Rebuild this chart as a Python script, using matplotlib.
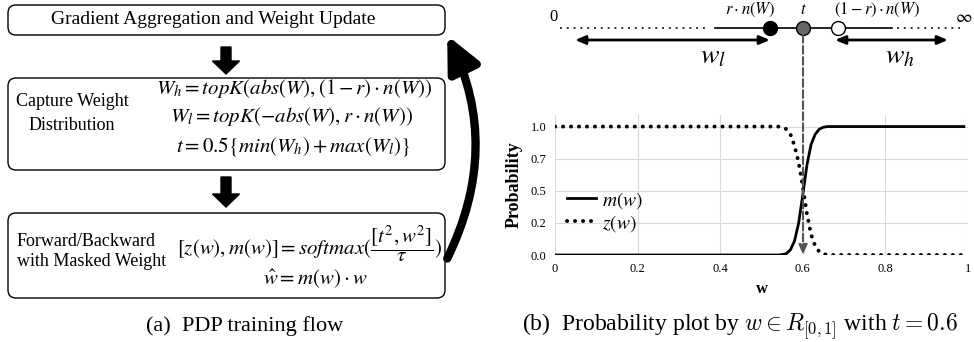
import matplotlib
matplotlib.use("Agg")
import matplotlib.pyplot as plt
from matplotlib.patches import FancyBboxPatch, FancyArrow, FancyArrowPatch

plt.rcParams['font.family'] = ['Liberation Serif', 'DejaVu Serif']
plt.rcParams['mathtext.fontset'] = 'stix'

# curve points
w_pts = [0.0, 0.50, 0.54, 0.55, 0.56, 0.57, 0.58, 0.59, 0.60, 0.61, 0.62,
         0.63, 0.64, 0.65, 0.66, 0.70, 0.99]
m_pts = [0.0, 0.0, 0.0, 0.003, 0.01, 0.04, 0.11, 0.25, 0.47, 0.70, 0.86,
         0.94, 0.98, 0.995, 1.0, 1.0, 1.0]
z_pts = [1.0, 1.0, 1.0, 0.995, 0.98, 0.94, 0.85, 0.72, 0.53, 0.32, 0.16,
         0.07, 0.025, 0.008, 0.0, 0.0, 0.0]

x_ticks = [0, 0.2, 0.4, 0.6, 0.8, 1]
x_labels = ['0', '0.2', '0.4', '0.6', '0.8', '1']
y_ticks = [0.0, 0.25, 0.5, 0.75, 1.0]
y_labels = ['0.0', '0.2', '0.5', '0.7', '1.0']

fig = plt.figure(figsize=(9.74, 3.42), dpi=100)

# ---- probability plot (b)
pax = fig.add_axes([555/974, 1-255/342, 413/974, 140/342])
pax.plot(w_pts, m_pts, color='black', lw=2, label='$m(w)$')
pax.plot(w_pts, z_pts, color='black', lw=2.8, linestyle=(0, (0.05, 2.0)),
         dash_capstyle='round', label='$z(w)$')
pax.set_xlim(0, 1)
pax.set_ylim(0, 1.09)
pax.set_xticks(x_ticks, x_labels)
pax.set_yticks(y_ticks, y_labels)
pax.tick_params(length=0, labelsize=9, pad=6)
pax.grid(color='#d9d9d9', lw=0.8)
for s in pax.spines.values():
    s.set_visible(False)
pax.set_xlabel('w', fontsize=12, fontweight='bold', labelpad=4)
pax.set_ylabel('Probability', fontsize=13, fontweight='bold', labelpad=6)
pax.legend(loc='center left', bbox_to_anchor=(0.01, 0.31), frameon=False,
           fontsize=14, handlelength=1.5, borderaxespad=0, labelspacing=0.1,
           handletextpad=0.3)

# ---- overlay in pixel coordinates
ax = fig.add_axes([0, 0, 1, 1])
ax.set_xlim(0, 974)
ax.set_ylim(342, 0)
ax.axis('off')

def box(x0, y0, x1, y1):
    ax.add_patch(FancyBboxPatch((x0, y0), x1-x0, y1-y0,
                                boxstyle='round,pad=0,rounding_size=8',
                                fc='white', ec='black', lw=1))

box(8, 5, 445, 35)
box(8, 78, 445, 170)
box(8, 213, 445, 298)

ax.text(213, 20, 'Gradient Aggregation and Weight Update', ha='center', va='center', fontsize=14)

ax.text(72, 101, 'Capture Weight', ha='center', va='center', fontsize=13)
ax.text(72, 126, 'Distribution', ha='center', va='center', fontsize=13)
ax.text(294, 89, r'$W_h = topK(abs(W), (1-r)\cdot n(W))$', ha='center', va='center', fontsize=15)
ax.text(291, 117, r'$W_l = topK(-abs(W), r\cdot n(W))$', ha='center', va='center', fontsize=15)
ax.text(293, 147, r'$t = 0.5\{min(W_h) + max(W_l)\}$', ha='center', va='center', fontsize=15)

ax.text(17, 242, 'Forward/Backward', ha='left', va='center', fontsize=13)
ax.text(17, 261, 'with Masked Weight', ha='left', va='center', fontsize=13)
ax.text(310, 244, r'$[z(w), m(w)] = softmax(\dfrac{[t^2, w^2]}{\tau})$', ha='center', va='center', fontsize=15)
ax.text(315, 279, r'$\hat{w} = m(w)\cdot w$', ha='center', va='center', fontsize=15)

for y0, y1 in [(47, 74), (177, 207)]:
    ax.add_patch(FancyArrow(226, y0, 0, y1-y0, width=10, head_width=27,
                            head_length=13, length_includes_head=True,
                            color='black'))

ax.add_patch(FancyArrowPatch((446, 261), (446, 33),
                             connectionstyle='arc3,rad=0.25',
                             arrowstyle='-|>,head_length=1.05,head_width=0.5',
                             mutation_scale=20, lw=6, color='black'))

ax.text(245, 326, '(a)  PDP training flow', ha='center', va='center', fontsize=16)

# ---- number line
ax.plot([560, 707], [28, 28], color='#333333', lw=1.4, linestyle=(0, (1, 2.5)))
ax.plot([715, 892], [28, 28], color='black', lw=1.2)
ax.plot([897, 960], [28, 28], color='#333333', lw=1.4, linestyle=(0, (1, 2.5)))
ax.text(553, 17, '0', ha='center', va='center', fontsize=12)
ax.text(964, 17, r'$\infty$', ha='center', va='center', fontsize=13)
ax.plot(770, 28, 'o', ms=10, mfc='black', mec='black', mew=1)
ax.plot(803, 28, 'o', ms=10, mfc='#666666', mec='black', mew=1)
ax.plot(838, 28, 'o', ms=10, mfc='white', mec='black', mew=1, zorder=5)
ax.text(750, 10, r'$r\cdot n(W)$', ha='center', va='center', fontsize=12)
ax.text(803, 10, r'$t$', ha='center', va='center', fontsize=12)
ax.text(877, 10, r'$(1-r)\cdot n(W)$', ha='center', va='center', fontsize=12)

for x0, x1 in [(575, 770), (835, 948)]:
    ax.annotate('', xy=(x0, 40), xytext=(x1, 40),
                arrowprops=dict(arrowstyle='<|-|>,head_length=0.6,head_width=0.25',
                                lw=2, color='black', shrinkA=0, shrinkB=0))
ax.text(713, 57, r'$w_l$', ha='center', va='center', fontsize=20)
ax.text(900, 57, r'$w_h$', ha='center', va='center', fontsize=20)

ax.annotate('', xy=(803, 255), xytext=(803, 35),
            arrowprops=dict(arrowstyle='-|>,head_length=0.6,head_width=0.25',
                            lw=1.5, color='#555555', linestyle='--',
                            shrinkA=0, shrinkB=0))

ax.text(740, 327, r'(b)  Probability plot by $w \in R_{[0,1]}$ with $t = 0.6$',
        ha='center', va='center', fontsize=17, math_fontfamily='cm')

fig.savefig('out.png', dpi=100)
